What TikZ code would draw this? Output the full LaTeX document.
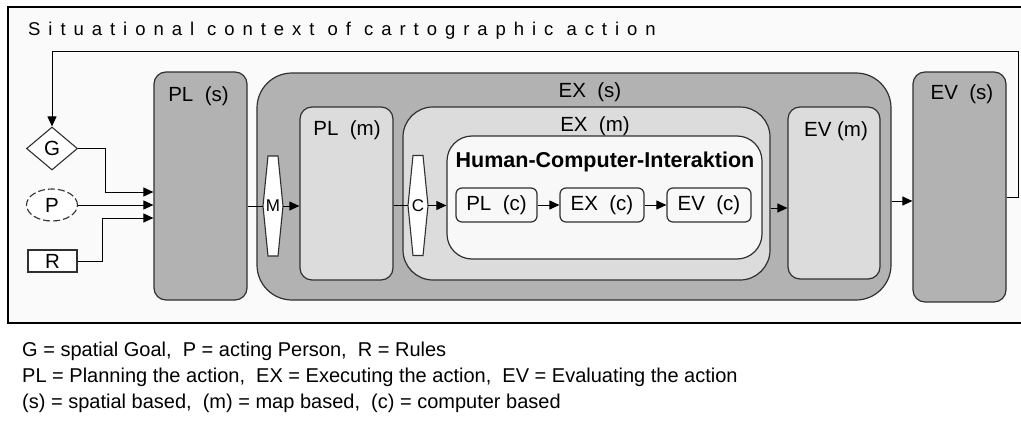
\documentclass[tikz,border=0pt]{standalone}
\usepackage{fontspec}
\setmainfont{Liberation Sans}
\usetikzlibrary{arrows.meta,shapes.geometric,calc}
\definecolor{dkbox}{HTML}{B2B2B2}
\definecolor{ltbox}{HTML}{DCDCDC}
\definecolor{vlbox}{HTML}{F8F8F8}
\definecolor{edgec}{HTML}{303030}
\definecolor{framebg}{HTML}{FAFAFA}
\newcommand\lblfont{\fontsize{20.5}{23}\selectfont}
\newcommand\legfont{\fontsize{20}{22}\selectfont}
\newcommand\ttlfont{\fontsize{18.5}{20}\selectfont\addfontfeature{LetterSpace=43}}
\newcommand\hexfont{\fontsize{17}{19}\selectfont}
\newcommand\hcifont{\fontsize{21.5}{23}\selectfont\bfseries}
\begin{document}
\begin{tikzpicture}[x=1pt,y=-1pt,
  box/.style={draw=edgec, line width=1.2pt, rounded corners=#1, inner sep=0pt},
  lbl/.style={anchor=base, inner sep=0pt, font=\lblfont},
  arr/.style={-{Triangle[length=10pt,width=9pt]}, line width=1pt, draw=black},
  plain/.style={line width=1pt, draw=black},
  hexst/.style={draw=edgec, line width=1.1pt, fill=white},
  hexnode/.style={minimum width=20pt, minimum height=100pt, inner sep=0pt, font=\hexfont},
  legl/.style={anchor=base west, inner sep=0pt, font=\legfont}
]
\useasboundingbox (0,0) rectangle (1021,423);
\fill[white] (0,0) rectangle (1021,423);
% frame
\node[draw=black, line width=1.3pt, fill=framebg, minimum width=1022pt, minimum height=316pt, inner sep=0pt] (frame) at (519,165) {};
\node[anchor=base west, inner sep=0pt, font=\ttlfont] (title) at (28,35) {Situational context of cartographic action};

% inputs
\node[diamond, draw=edgec, line width=1.1pt, fill=white, minimum width=51pt, minimum height=43pt, inner sep=0pt, font=\lblfont] (G) at (52,148.5) {G};
\node[ellipse, draw=edgec, line width=1.1pt, dash pattern=on 7pt off 3pt, fill=white, minimum width=51pt, minimum height=32pt, inner sep=0pt, font=\lblfont] (P) at (52,205) {P};
\node[rectangle, draw=edgec, line width=1.1pt, fill=white, minimum width=49pt, minimum height=22pt, inner sep=0pt, font=\lblfont] (R) at (52.5,261) {R};

% main boxes
\node[box=12pt, fill=dkbox, minimum width=93pt, minimum height=228pt] (PLs) at (200.5,186) {};
\node[box=35pt, fill=dkbox, minimum width=634pt, minimum height=227pt] (EXs) at (574,186.5) {};
\node[box=12pt, fill=ltbox, minimum width=93pt, minimum height=173pt] (PLm) at (346.5,193.5) {};
\node[box=30pt, fill=ltbox, minimum width=367pt, minimum height=173pt] (EXm) at (586.5,193.5) {};
\node[box=25pt, fill=vlbox, minimum width=315pt, minimum height=123pt] (HCI) at (604.5,197.5) {};
\node[box=6pt, fill=vlbox, minimum width=81pt, minimum height=34pt, font=\lblfont] (PLc) at (496.5,205) {PL~~(c)};
\node[box=6pt, fill=vlbox, minimum width=84pt, minimum height=34pt, font=\lblfont] (EXc) at (602,205) {EX~~(c)};
\node[box=6pt, fill=vlbox, minimum width=84pt, minimum height=34pt, font=\lblfont] (EVc) at (709,205) {EV~~(c)};
\node[box=12pt, fill=ltbox, minimum width=92pt, minimum height=172pt] (EVm) at (834,193) {};
\node[box=12pt, fill=dkbox, minimum width=93pt, minimum height=230pt] (EVs) at (959.5,187) {};

% labels
\node[lbl] (PLsL) at (198.5,101) {PL~~(s)};
\node[lbl] (EXsL) at (590,97) {EX~~(s)};
\node[lbl] (PLmL) at (347,135) {PL~~(m)};
\node[lbl] (EXmL) at (595,131) {EX~~(m)};
\node[anchor=base, inner sep=0pt, font=\hcifont] (HCIL) at (605,167) {Human-Computer-Interaktion};
\node[lbl] (EVmL) at (836,136) {EV (m)};
\node[lbl] (EVsL) at (962,99) {EV~~(s)};

% hexagons
\coordinate (Mc) at (273,206);
\draw[hexst] ($(Mc)+(-5,-50)$) -- ($(Mc)+(5,-50)$) -- ($(Mc)+(10,0)$) -- ($(Mc)+(5,50)$) -- ($(Mc)+(-5,50)$) -- ($(Mc)+(-10,0)$) -- cycle;
\node[hexnode] (M) at (Mc) {M};
\coordinate (Cc) at (418,205.5);
\draw[hexst] ($(Cc)+(-5,-50)$) -- ($(Cc)+(5,-50)$) -- ($(Cc)+(10,0)$) -- ($(Cc)+(5,50)$) -- ($(Cc)+(-5,50)$) -- ($(Cc)+(-10,0)$) -- cycle;
\node[hexnode] (C) at (Cc) {C};

% connectors
\draw[arr] (G.east) -| ([xshift=-48pt,yshift=-6pt]PLs.west) -- ([yshift=-6pt]PLs.west);
\draw[arr] (P.east) -- (P.east -| PLs.west);
\draw[arr] (R.east) -| ([xshift=-51pt,yshift=-32pt]PLs.west) -- ([yshift=-32pt]PLs.west);
\draw[plain] (PLs.east |- M.west) -- (M.west);
\draw[arr] (M.east) -- (M.east -| PLm.west);
\draw[plain] (PLm.east |- C.west) -- (C.west);
\draw[arr] (C.east) -- (C.east -| HCI.west);
\draw[arr] (PLc) -- (EXc);
\draw[arr] (EXc) -- (EVc);
\coordinate (e1) at ([yshift=-14.5pt]EXm.east);
\draw[arr] (e1) -- (e1 -| EVm.west);
\coordinate (e2) at ([yshift=-14.5pt]EXs.east);
\draw[arr] (e2) -- (e2 -| EVs.west);
\draw[arr] ([yshift=-10pt]EVs.east) -- ++(12,0) |- ([yshift=75pt]G.north) -- (G.north);

% legend
\node[legl] (leg1) at (22,356) {G = spatial Goal,~ P = acting Person,~ R = Rules};
\node[legl] (leg2) at (22,382) {PL = Planning the action,~ EX = Executing the action,~ EV = Evaluating the action};
\node[legl] (leg3) at (22,408) {(s) = spatial based,~ (m) = map based,~ (c) = computer based};
\end{tikzpicture}
\end{document}
